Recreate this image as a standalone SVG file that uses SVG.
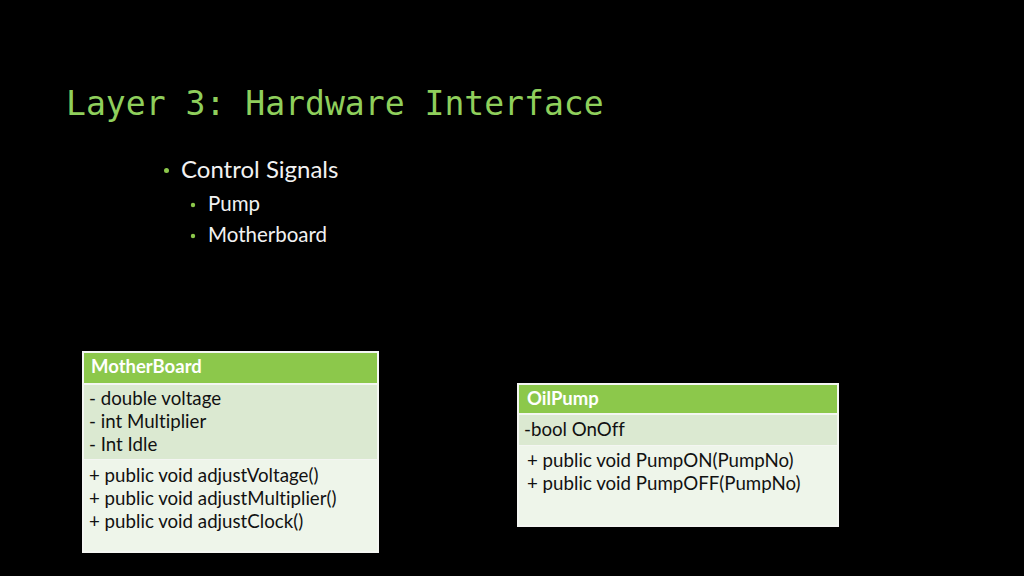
<svg xmlns="http://www.w3.org/2000/svg" width="1024" height="576" viewBox="0 0 1024 576">
<style>
text{font-variant-ligatures:none}
.title{font-family:"DejaVu Sans Mono","Liberation Mono",monospace;font-size:33.1px;fill:#8fcf5c}
.b1{font-family:Lato,"Open Sans",sans-serif;font-size:24px;fill:#f2f2f2}
.b2{font-family:Lato,"Open Sans",sans-serif;font-size:20.5px;fill:#f2f2f2}
.dot{fill:#8cc84b}
.hdr{fill:#8cc84b}
.attr{fill:#dbe9d1}
.meth{fill:#eef5ea}
.frame{fill:#f4f6f2}
.hname{font-family:Lato,"Open Sans",sans-serif;font-size:18.5px;font-weight:bold;fill:#ffffff}
.t{font-family:Lato,"Open Sans",sans-serif;font-size:18.7px;fill:#111111}
</style>
<rect width="1024" height="576" fill="#000000"/>
<text class="title" x="66" y="115">Layer 3: Hardware Interface</text>
<g id="bullets">
<circle class="dot" cx="166.5" cy="170.5" r="2.5"/>
<text class="b1" x="181" y="178">Control Signals</text>
<circle class="dot" cx="193" cy="205" r="2.2"/>
<text class="b2" x="208" y="211">Pump</text>
<circle class="dot" cx="193" cy="236" r="2.2"/>
<text class="b2" x="208" y="242">Motherboard</text>
</g>
<g id="motherboard">
<rect class="frame" x="82" y="351" width="297" height="202"/>
<rect class="hdr" x="84" y="353" width="293" height="30"/>
<rect class="attr" x="84" y="385" width="293" height="74"/>
<rect class="meth" x="84" y="460" width="293" height="91"/>
<text class="hname" x="91" y="373">MotherBoard</text>
<text class="t" x="89" y="405">- double voltage</text>
<text class="t" x="89" y="428">- int Multiplier</text>
<text class="t" x="89" y="451">- Int Idle</text>
<text class="t" x="89" y="482">+ public void adjustVoltage()</text>
<text class="t" x="89" y="505">+ public void adjustMultiplier()</text>
<text class="t" x="89" y="528">+ public void adjustClock()</text>
</g>
<g id="oilpump">
<rect class="frame" x="517" y="383" width="322" height="144"/>
<rect class="hdr" x="519" y="385" width="318" height="28"/>
<rect class="attr" x="519" y="415" width="318" height="30"/>
<rect class="meth" x="519" y="446" width="318" height="79"/>
<text class="hname" x="527" y="405">OilPump</text>
<text class="t" x="524" y="436">-bool OnOff</text>
<text class="t" x="527" y="467">+ public void PumpON(PumpNo)</text>
<text class="t" x="527" y="490">+ public void PumpOFF(PumpNo)</text>
</g>
<g id="connectors"/>
</svg>
